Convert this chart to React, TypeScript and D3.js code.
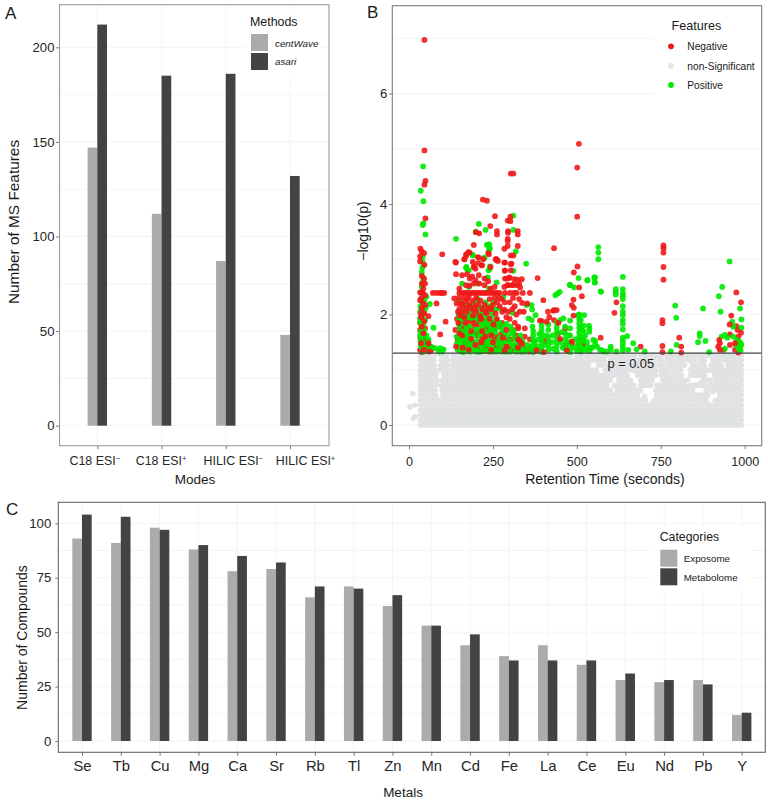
import React, { useEffect, useRef } from 'react';
import * as d3 from 'd3';

// panel A
const modes = ['C18 ESI-', 'C18 ESI+', 'HILIC ESI-', 'HILIC ESI+'];
const centWave = [147, 112, 87, 48];
const asari = [212, 185, 186, 132];
// the tick labels sit off their ticks in the original
const modeLabelShift = [-3, -1, 7, 15];

// panel C
const metals = ['Se', 'Tb', 'Cu', 'Mg', 'Ca', 'Sr', 'Rb', 'Tl', 'Zn', 'Mn', 'Cd', 'Fe', 'La', 'Ce', 'Eu', 'Nd', 'Pb', 'Y'];
const exposome = [93, 91, 98, 88, 78, 79, 66, 71, 62, 53, 44, 39, 44, 35, 28, 27, 28, 12];
const metabolome = [104, 103, 97, 90, 85, 82, 71, 70, 67, 53, 49, 37, 37, 37, 31, 28, 26, 13];

// panel B, [retention time, -log10(p)]
const negative: number[][] = [
  [46, 6.97], [46, 4.97], [49, 4.42], [46, 4.35], [49, 3.74], [34, 3.19], [506, 5.09], [501, 4.66], [501, 3.77],
  [303, 4.55], [311, 4.55], [220, 4.08], [232, 4.06], [256, 3.78], [302, 3.77], [294, 3.7], [302, 3.69], [242, 3.6],
  [199, 3.49], [209, 3.47], [262, 3.51], [262, 3.45], [295, 3.51], [295, 3.48], [324, 3.51], [324, 3.45], [294, 3.37],
  [294, 3.33], [193, 3.26], [294, 3.24], [324, 3.24], [284, 3.19], [432, 3.2], [758, 3.25], [758, 3.2], [99, 3.09],
  [177, 3.13], [165, 3.0], [170, 3.09], [138, 2.95], [205, 3.04], [190, 2.95], [194, 2.86], [216, 2.89], [206, 2.93],
  [236, 3.11], [258, 3.0], [261, 2.98], [284, 2.94], [303, 2.91], [303, 3.07], [311, 3.07], [285, 2.79], [383, 2.66],
  [336, 2.64], [291, 2.65], [297, 2.66], [284, 2.5], [296, 2.53], [311, 2.54], [321, 2.53], [331, 2.49],
  [71, 2.39], [82, 2.39], [92, 2.39], [98, 2.39], [105, 2.39], [150, 2.39], [158, 2.39], [165, 2.39], [172, 2.39],
  [180, 2.39], [188, 2.39], [195, 2.39], [203, 2.39], [210, 2.39], [218, 2.39], [225, 2.39], [232, 2.39], [240, 2.39],
  [248, 2.39], [255, 2.39], [262, 2.39], [270, 2.39], [286, 2.39], [301, 2.39], [313, 2.39], [321, 2.39], [339, 2.39],
  [360, 2.39], [400, 2.26], [337, 2.21], [82, 2.2], [109, 1.87], [93, 1.64], [491, 2.76], [502, 2.87], [507, 2.49],
  [515, 2.33], [490, 2.27], [485, 2.17], [491, 2.12], [490, 1.98],
  [758, 3.12], [758, 2.86], [758, 2.63], [755, 1.9], [755, 1.84], [755, 1.43], [755, 1.32], [805, 1.58], [811, 1.42],
  [811, 1.31], [618, 2.22], [612, 2.03], [571, 1.58], [690, 1.42], [975, 2.4], [989, 2.22], [960, 1.98], [955, 1.82],
  [975, 1.79], [979, 1.72], [989, 1.67], [956, 1.64], [981, 1.6], [924, 1.54], [926, 1.48], [921, 1.42], [926, 1.36],
  [936, 1.36], [956, 1.45], [971, 1.48], [971, 1.36], [981, 1.31], [485, 1.51], [514, 1.57], [519, 1.48],
  [38, 3.14], [45, 3.11], [33, 2.96], [46, 2.9], [38, 2.56], [48, 2.56], [43, 2.47], [41, 2.39], [48, 2.35], [33, 2.26],
  [48, 2.17], [38, 2.11], [45, 2.02], [58, 1.97], [33, 1.85], [38, 1.78], [33, 1.72], [48, 1.75], [43, 1.66], [38, 1.57],
  [48, 1.54], [58, 1.48], [63, 1.42], [33, 1.36], [43, 1.36], [38, 1.32], [50, 1.44], [36, 1.95], [42, 1.62],
  [33, 2.4], [37, 2.3], [42, 2.2], [35, 2.02], [45, 1.88], [40, 1.7], [34, 1.58], [36, 1.48], [48, 1.38], [52, 1.5],
  [60, 1.33], [66, 1.35], [33, 3.05], [38, 2.7], [45, 2.65],
  [140, 2.94], [140, 2.73], [158, 2.71], [165, 3.0], [171, 3.07], [181, 3.12], [193, 2.86], [198, 2.83], [208, 3.03],
  [221, 3.0], [218, 2.89], [238, 3.09], [243, 2.86], [261, 3.0], [265, 2.97], [286, 2.94], [305, 2.92], [286, 2.8],
  [303, 2.8], [299, 2.67], [286, 2.65], [313, 2.64], [323, 2.63], [293, 2.53], [308, 2.53], [328, 2.56], [173, 2.73],
  [181, 2.65], [188, 2.69], [198, 2.62], [208, 2.71], [225, 2.65], [225, 2.53], [243, 2.47], [193, 2.56], [170, 2.53],
  [150, 2.47], [210, 2.56], [180, 2.52], [236, 2.6], [255, 2.5],
  [135, 2.29], [148, 2.3], [155, 2.2], [163, 2.3], [175, 2.28], [150, 2.1], [158, 2.05], [170, 2.12], [180, 2.18],
  [190, 2.25], [200, 2.3], [213, 2.25], [225, 2.18], [240, 2.28], [255, 2.3], [143, 1.92], [155, 1.85], [165, 1.95],
  [178, 1.88], [190, 1.98], [200, 2.05], [212, 1.97], [220, 1.9], [232, 2.02], [245, 2.1], [258, 2.02], [270, 2.15],
  [284, 2.09], [300, 2.22], [308, 2.1], [320, 2.0], [330, 2.05], [290, 1.95], [277, 1.85], [300, 1.92], [315, 1.85],
  [325, 1.78], [138, 1.72], [150, 1.66], [162, 1.75], [172, 1.58], [185, 1.7], [195, 1.78], [208, 1.82], [218, 1.7],
  [228, 1.78], [240, 1.68], [252, 1.82], [262, 1.6], [275, 1.65], [290, 1.72], [305, 1.55], [318, 1.62], [330, 1.52],
  [340, 1.45], [345, 1.6], [140, 1.42], [152, 1.35], [165, 1.48], [178, 1.36], [190, 1.5], [205, 1.4], [218, 1.55],
  [232, 1.42], [240, 1.33], [250, 1.5], [262, 1.38], [272, 1.45], [285, 1.35], [298, 1.42], [312, 1.36], [325, 1.4],
  [338, 1.33], [358, 1.33], [380, 1.35], [395, 1.33], [220, 1.34], [228, 1.6], [204, 1.62], [180, 1.62],
  [142, 2.2], [146, 2.05], [152, 1.98], [147, 1.85], [160, 2.16], [168, 2.24], [172, 2.05], [178, 2.33], [185, 2.12],
  [192, 2.08], [198, 2.15], [206, 2.18], [218, 2.1], [228, 2.05], [236, 2.12], [250, 2.18], [262, 2.22], [268, 2.3],
  [276, 2.28], [152, 1.78], [158, 1.72], [168, 1.85], [175, 1.78], [185, 1.92], [192, 1.85], [200, 1.95], [205, 1.88],
  [215, 1.92], [225, 1.85], [235, 1.8], [240, 1.92], [248, 1.85], [255, 1.75], [262, 1.92], [270, 1.78], [145, 1.55],
  [158, 1.62], [165, 1.6], [175, 1.48], [185, 1.56], [198, 1.68], [210, 1.7], [215, 1.5], [222, 1.62], [235, 1.72],
  [245, 1.62], [255, 1.55], [268, 1.52], [280, 1.58], [295, 1.55], [310, 1.72], [160, 1.4], [172, 1.42], [185, 1.42],
  [198, 1.45], [210, 1.33], [225, 1.4], [245, 1.36], [258, 1.44], [275, 1.36], [290, 1.42], [305, 1.36], [320, 1.42],
  [335, 1.48], [350, 1.36], [295, 2.05], [315, 2.15], [285, 2.22], [278, 2.05], [342, 2.05], [352, 2.2], [310, 2.3],
  [328, 2.28], [345, 1.75], [360, 1.55],
  [432, 2.08], [414, 2.05], [430, 2.07], [440, 2.08], [418, 1.95], [432, 1.9], [445, 1.85], [395, 1.88], [390, 1.89],
  [410, 1.87], [465, 1.74], [444, 1.65], [450, 1.56], [485, 1.46], [375, 1.38], [402, 1.32], [405, 1.52], [465, 1.44],
  [470, 1.35], [518, 1.51], [519, 1.43], [325, 1.55], [325, 1.75],
];

const positive: number[][] = [
  [42, 4.68], [35, 4.24], [43, 4.05], [43, 3.65], [41, 3.62], [49, 3.45], [208, 3.64], [199, 3.5], [228, 3.53], [140, 3.37],
  [311, 3.79], [311, 3.53], [232, 3.26], [239, 3.27], [239, 3.19], [564, 3.22], [564, 3.12], [564, 3.0], [552, 2.67],
  [553, 2.58], [531, 2.62], [505, 2.66], [480, 2.53], [492, 2.49], [571, 2.42], [616, 2.46], [616, 2.41], [616, 2.36],
  [637, 2.68], [637, 2.46], [637, 2.38], [637, 2.33], [637, 2.28], [637, 2.15], [637, 2.05], [637, 1.99], [637, 1.9],
  [637, 1.83], [637, 1.73], [637, 1.58], [637, 1.53], [637, 1.47], [637, 1.41], [637, 1.35], [650, 1.61], [668, 1.48],
  [678, 1.37], [702, 1.33], [653, 1.36], [618, 1.33], [601, 1.42], [601, 1.36], [579, 1.33], [569, 1.36], [549, 1.54],
  [554, 1.45], [539, 1.39], [519, 1.52], [537, 1.75], [537, 1.69],
  [793, 2.16], [796, 1.94], [797, 1.45], [780, 1.33], [876, 2.11], [866, 1.66], [866, 1.61], [861, 1.5], [883, 1.52],
  [894, 1.32], [955, 2.96], [933, 2.5], [923, 2.33], [928, 2.05], [986, 2.11], [990, 1.91], [990, 1.76], [963, 1.87],
  [941, 1.63], [931, 1.6], [948, 1.58], [966, 1.6], [976, 1.54], [984, 1.51], [988, 1.48], [986, 1.41], [981, 1.38],
  [988, 1.35], [974, 1.45], [990, 1.45], [966, 1.78], [941, 1.38],
  [41, 3.05], [41, 2.95], [40, 2.85], [38, 2.77], [41, 2.68], [42, 2.6], [38, 2.5], [52, 2.32], [38, 2.25], [62, 2.19],
  [38, 1.96], [48, 1.9], [33, 1.87], [43, 1.83], [73, 1.76], [38, 1.6], [58, 1.55], [48, 1.46], [38, 1.4], [58, 1.5],
  [33, 1.93], [45, 2.05], [40, 2.13], [34, 1.52], [44, 1.33], [55, 1.35], [78, 1.39], [93, 1.39], [103, 1.37], [68, 1.41],
  [88, 1.33], [99, 1.33], [35, 1.7], [50, 2.12], [35, 1.45], [40, 1.5], [33, 1.62], [37, 1.8], [41, 2.0], [45, 1.72],
  [38, 2.4], [38, 2.05], [45, 1.6], [52, 1.62], [33, 2.05], [45, 2.25], [34, 2.15], [60, 1.38],
  [190, 3.08], [225, 3.03], [238, 3.15], [171, 2.86], [178, 2.8], [240, 2.83], [235, 2.67], [261, 2.58], [158, 2.56],
  [178, 2.5], [203, 2.56], [238, 2.47], [281, 2.31], [268, 2.11], [308, 2.03], [283, 1.78], [303, 1.72], [236, 3.27],
  [241, 3.2], [224, 3.02], [170, 2.85], [174, 2.8], [190, 3.07], [241, 2.87], [237, 2.8], [231, 2.66], [311, 2.79],
  [318, 3.14], [150, 2.25], [165, 2.18], [180, 2.08], [195, 2.2], [205, 2.28], [215, 2.12], [228, 2.22], [240, 2.15],
  [252, 2.22], [160, 2.0], [172, 1.98], [185, 2.02], [198, 1.92], [210, 2.02], [222, 1.98], [235, 1.93], [248, 1.98],
  [260, 1.9], [150, 1.8], [160, 1.85], [170, 1.8], [182, 1.78], [195, 1.88], [205, 1.72], [215, 1.85], [228, 1.88],
  [240, 1.78], [250, 1.72], [265, 1.78], [278, 1.72], [290, 1.83], [302, 1.78], [312, 1.7], [142, 1.6], [155, 1.55],
  [168, 1.66], [180, 1.52], [192, 1.62], [202, 1.52], [215, 1.62], [225, 1.5], [238, 1.58], [248, 1.62], [258, 1.5],
  [270, 1.58], [282, 1.52], [295, 1.62], [308, 1.66], [320, 1.5], [332, 1.62], [145, 1.36], [158, 1.45], [170, 1.4],
  [183, 1.43], [195, 1.36], [208, 1.46], [220, 1.42], [232, 1.35], [245, 1.43], [255, 1.36], [268, 1.36], [280, 1.43],
  [292, 1.33], [305, 1.46], [318, 1.33], [330, 1.42], [342, 1.36], [352, 1.45], [365, 1.42], [375, 1.5], [160, 1.32],
  [182, 1.33], [200, 1.33], [212, 1.33], [235, 1.46], [260, 1.33], [275, 1.33], [143, 1.48], [172, 1.5],
  [148, 2.0], [155, 1.95], [165, 2.08], [175, 2.15], [188, 2.15], [200, 2.1], [220, 2.05], [232, 2.1], [245, 2.05],
  [255, 2.1], [148, 1.9], [165, 1.9], [178, 1.95], [190, 1.92], [205, 1.95], [218, 1.78], [232, 1.82], [245, 1.88],
  [255, 1.82], [270, 1.85], [150, 1.7], [160, 1.7], [172, 1.72], [185, 1.65], [198, 1.72], [210, 1.62], [222, 1.72],
  [235, 1.68], [245, 1.72], [258, 1.68], [285, 1.65], [300, 1.52], [148, 1.52], [165, 1.55], [175, 1.6], [190, 1.48],
  [200, 1.42], [215, 1.48], [230, 1.52], [243, 1.5], [265, 1.46], [275, 1.5], [288, 1.45], [315, 1.58], [325, 1.55],
  [338, 1.52], [150, 1.42], [165, 1.33], [188, 1.38], [205, 1.33], [225, 1.34], [250, 1.33], [285, 1.33], [300, 1.33],
  [310, 1.42], [325, 1.33], [335, 1.33], [348, 1.33], [358, 1.38],
  [349, 2.92], [436, 2.35], [443, 2.38], [449, 2.41], [479, 2.54], [532, 2.62], [554, 2.67], [554, 2.58], [572, 2.41],
  [350, 2.17], [365, 2.17], [367, 2.09], [377, 1.99], [356, 1.93], [366, 1.9], [460, 1.93], [480, 1.89], [450, 1.9],
  [522, 1.99], [504, 1.99], [368, 1.78],
  [370, 1.7], [370, 1.62], [370, 1.54], [370, 1.46], [370, 1.38], [370, 1.32],
  [395, 1.8], [395, 1.72], [395, 1.64], [395, 1.56], [395, 1.48], [395, 1.4], [395, 1.33],
  [415, 1.82], [415, 1.72], [415, 1.6], [415, 1.52], [415, 1.44], [415, 1.36],
  [440, 1.85], [440, 1.76], [440, 1.68], [440, 1.58], [440, 1.5], [440, 1.42], [440, 1.33],
  [465, 1.78], [465, 1.66], [465, 1.56], [465, 1.46], [465, 1.38],
  [480, 1.75], [480, 1.62], [480, 1.5], [480, 1.4], [480, 1.32],
  [507, 2.0], [507, 1.92], [507, 1.84], [507, 1.76], [507, 1.68], [507, 1.6], [507, 1.52], [507, 1.44], [507, 1.36],
  [512, 1.9], [512, 1.78], [512, 1.6], [512, 1.42], [520, 1.8], [520, 1.7], [520, 1.56], [520, 1.38],
  [536, 1.8], [555, 1.52], [560, 1.42], [545, 1.4], [527, 1.36], [500, 1.34], [590, 1.33], [575, 1.35], [538, 1.34],
  [382, 1.42], [385, 1.55], [388, 1.65], [405, 1.45], [408, 1.62], [425, 1.5], [428, 1.62], [430, 1.38], [452, 1.5],
  [455, 1.68], [458, 1.4], [472, 1.5], [475, 1.62], [490, 1.4], [495, 1.55], [530, 1.5], [532, 1.42], [525, 1.62],
  [515, 1.72], [505, 1.38], [511, 1.33], [517, 1.36], [503, 1.46],
];

// the grey mass is far too dense to read dot by dot, so each row lists the rt spans it covers
const greyRows: number[] = [1.26, 1.17, 1.08, 0.99, 0.9, 0.81, 0.72, 0.63, 0.54, 0.45, 0.36, 0.27, 0.18, 0.09, 0.0];
const greySpans: number[][][] = [
  [[34, 75], [94, 113], [132, 345], [352, 362], [372, 392], [402, 425], [437, 452], [465, 480], [498, 512], [525, 548], [560, 590], [605, 640], [652, 672], [690, 708], [722, 735], [742, 770], [782, 800], [812, 852], [860, 878], [890, 920], [932, 990]],
  [[34, 74], [96, 115], [130, 370], [378, 400], [408, 430], [440, 498], [505, 540], [552, 582], [600, 655], [672, 700], [712, 730], [745, 752], [768, 785], [800, 815], [830, 850], [866, 880], [905, 925], [940, 965], [975, 990]],
  [[34, 76], [93, 118], [130, 440], [448, 505], [512, 535], [565, 575], [590, 650], [660, 690], [700, 735], [745, 790], [805, 820], [845, 880], [900, 930], [950, 990]],
  [[34, 78], [90, 100], [108, 118], [130, 510], [520, 558], [585, 612], [625, 650], [665, 700], [710, 735], [750, 770], [785, 810], [840, 895], [905, 990]],
  [[34, 80], [104, 118], [130, 565], [575, 610], [620, 650], [680, 712], [722, 735], [752, 780], [795, 812], [838, 880], [910, 960], [972, 990]],
  [[34, 84], [100, 120], [130, 600], [625, 660], [690, 725], [755, 790], [800, 830], [875, 900], [915, 965], [975, 990]],
  [[34, 82], [96, 122], [130, 590], [612, 670], [690, 720], [738, 760], [770, 820], [840, 880], [895, 990]],
  [[34, 78], [98, 120], [130, 600], [620, 680], [735, 800], [815, 845], [885, 990]],
  [[34, 80], [100, 120], [128, 680], [738, 890], [925, 990]],
  [[34, 92], [100, 118], [128, 705], [733, 885], [912, 990]],
  [[34, 118], [127, 740], [745, 840], [850, 990]],
  [[34, 119], [126, 990]],
  [[34, 119], [126, 565], [572, 990]],
  [[34, 120], [125, 990]],
  [[34, 120], [125, 990]],
];
const greyStray: number[][] = [
  [11, 0.57], [3, 0.33], [18, 0.36], [13, 0.12], [18, 0.15], [700, 0.95], [690, 0.62], [712, 0.78], [702, 0.52],
  [728, 0.42], [868, 0.75], [905, 0.6], [838, 1.0], [610, 1.05], [590, 0.78], [830, 0.7], [795, 1.12], [880, 1.05],
  [750, 1.2], [670, 1.08],
];

const LIGHT = '#ABABAB';
const DARK = '#434343';
const RED = '#F01818';
const GREEN = '#00E800';
const GREY = '#E0E2E4';
const GRID = '#F1F1F1';
const FONT = '"Liberation Sans", Arial, sans-serif';

function App() {
  const svgRef = useRef<SVGSVGElement | null>(null);

  useEffect(() => {
    const svg = d3.select(svgRef.current);
    svg.selectAll('*').remove();
    svg.attr('font-family', FONT);

    const text = (x: number, y: number, s: string, size: number, anchor = 'start', rotate = false) =>
      svg
        .append('text')
        .attr('transform', rotate ? `translate(${x},${y}) rotate(-90)` : `translate(${x},${y})`)
        .attr('text-anchor', anchor)
        .attr('font-size', size)
        .attr('fill', '#1a1a1a')
        .text(s);

    const hGrid = (g: any, scale: any, vals: number[], x0: number, x1: number) =>
      g
        .append('g')
        .selectAll('line')
        .data(vals)
        .join('line')
        .attr('x1', x0)
        .attr('x2', x1)
        .attr('y1', (d: number) => scale(d))
        .attr('y2', (d: number) => scale(d))
        .attr('stroke', GRID)
        .attr('stroke-width', 0.8);

    const vGrid = (g: any, xs: number[], y0: number, y1: number) =>
      g
        .append('g')
        .selectAll('line')
        .data(xs)
        .join('line')
        .attr('x1', (d: number) => d)
        .attr('x2', (d: number) => d)
        .attr('y1', y0)
        .attr('y2', y1)
        .attr('stroke', GRID)
        .attr('stroke-width', 0.8);

    const styleAxis = (g: any, size: number) => {
      g.select('.domain').remove();
      g.selectAll('.tick line').attr('stroke', '#555').attr('stroke-width', 0.8);
      g.selectAll('.tick text').attr('font-size', size).attr('font-family', FONT).attr('fill', '#262626');
    };

    const frame = (x0: number, y0: number, x1: number, y1: number, color: string) =>
      svg
        .append('rect')
        .attr('x', x0)
        .attr('y', y0)
        .attr('width', x1 - x0)
        .attr('height', y1 - y0)
        .attr('fill', 'none')
        .attr('stroke', color)
        .attr('stroke-width', 1.1);

    const swatches = (x: number, ys: number[], colors: string[]) =>
      svg
        .append('g')
        .selectAll('rect')
        .data(ys)
        .join('rect')
        .attr('x', x)
        .attr('y', (d) => d)
        .attr('width', 17)
        .attr('height', 17)
        .attr('fill', (_, i) => colors[i]);

    // ---- panel A
    const xA = d3.scalePoint<string>().domain(modes).range([97.3, 290]);
    const yA = d3.scaleLinear().domain([0, 200]).range([425.7, 47.3]);
    const barA = 9.7;
    const a = svg.append('g');
    hGrid(a, yA, [0, 25, 50, 75, 100, 125, 150, 175, 200, 225].filter((v) => yA(v) > 5), 59.5, 328.5);
    vGrid(a, modes.map((m) => xA(m) as number), 4.7, 445.7);
    a.append('g')
      .selectAll('rect')
      .data(centWave)
      .join('rect')
      .attr('x', (_, i) => (xA(modes[i]) as number) - barA)
      .attr('y', (d) => yA(d))
      .attr('width', barA)
      .attr('height', (d) => yA(0) - yA(d))
      .attr('fill', LIGHT);
    a.append('g')
      .selectAll('rect')
      .data(asari)
      .join('rect')
      .attr('x', (_, i) => xA(modes[i]) as number)
      .attr('y', (d) => yA(d))
      .attr('width', barA)
      .attr('height', (d) => yA(0) - yA(d))
      .attr('fill', DARK);
    const axA = a.append('g').attr('transform', 'translate(59.5,0)').call(d3.axisLeft(yA).tickValues([0, 50, 100, 150, 200]).tickSize(3.5).tickPadding(1.5));
    styleAxis(axA, 13.2);
    const axAx = a
      .append('g')
      .attr('transform', 'translate(0,445.7)')
      .call(d3.axisBottom(xA).tickSize(3.5).tickPadding(7.5));
    styleAxis(axAx, 12.4);
    axAx.selectAll('.tick text').each(function (d: any, i: number) {
      const t = d3.select(this);
      t.attr('dx', modeLabelShift[i]);
      t.text(d.slice(0, -1));
      t.append('tspan').attr('dy', -4).attr('font-size', 7.5).text(d.endsWith('-') ? '−' : '+');
    });
    frame(59.5, 4.7, 329, 445.7, '#9a9a9a');
    text(19, 222, 'Number of MS Features', 15.4, 'middle', true);
    text(195, 484, 'Modes', 13.5, 'middle');
    text(5, 18.5, 'A', 17);
    svg.append('rect').attr('x', 244).attr('y', 12).attr('width', 78).attr('height', 64).attr('fill', '#fff');
    text(250, 26, 'Methods', 12.4);
    swatches(251, [34, 53], [LIGHT, DARK]);
    text(275, 46.5, 'centWave', 9.8).attr('font-style', 'italic');
    text(275, 65, 'asari', 9.8).attr('font-style', 'italic');

    // ---- panel B
    const xB = d3.scaleLinear().domain([0, 1000]).range([409, 744.7]);
    const yB = d3.scaleLinear().domain([0, 6]).range([425, 93.5]);
    const b = svg.append('g');
    hGrid(b, yB, [0, 1, 2, 3, 4, 5, 6, 7], 392.3, 761.7);
    greyRows.forEach((lp, i) => {
      b.append('g')
        .selectAll('line')
        .data(greySpans[i])
        .join('line')
        .attr('x1', (d) => xB(d[0]))
        .attr('x2', (d) => xB(d[1]))
        .attr('y1', yB(lp))
        .attr('y2', yB(lp))
        .attr('stroke', GREY)
        .attr('stroke-width', 5.4)
        .attr('stroke-linecap', 'round');
    });
    b.append('g')
      .selectAll('circle')
      .data(greyStray)
      .join('circle')
      .attr('cx', (d) => xB(d[0]))
      .attr('cy', (d) => yB(d[1]))
      .attr('r', 2.7)
      .attr('fill', GREY);
    // low in the cloud green sits over most of the red, higher up red stays on top
    const redOnTop = (p: number[], i: number) => p[1] > 1.95 || i % 3 === 0;
    const dots = (pts: number[][], color: string) =>
      b
        .append('g')
        .selectAll('circle')
        .data(pts)
        .join('circle')
        .attr('cx', (d) => xB(d[0]))
        .attr('cy', (d) => yB(d[1]))
        .attr('r', 2.9)
        .attr('fill', color)
        .attr('fill-opacity', 0.9);
    dots(negative.filter((p, i) => !redOnTop(p, i)), RED);
    dots(positive, GREEN);
    dots(negative.filter(redOnTop), RED);
    b.append('line')
      .attr('x1', 392.3)
      .attr('x2', 761.7)
      .attr('y1', yB(1.301))
      .attr('y2', yB(1.301))
      .attr('stroke', '#444')
      .attr('stroke-width', 1.3);
    text(607.5, 368, 'p = 0.05', 12.8);
    const axB = b.append('g').attr('transform', 'translate(392.3,0)').call(d3.axisLeft(yB).tickValues([0, 2, 4, 6]).tickFormat(d3.format('d')).tickSize(3).tickPadding(2));
    styleAxis(axB, 13.2);
    const axBx = b
      .append('g')
      .attr('transform', 'translate(0,445.7)')
      .call(d3.axisBottom(xB).tickValues([0, 250, 500, 750, 1000]).tickFormat(d3.format('d')).tickSize(3.5).tickPadding(7.5));
    styleAxis(axBx, 12.6);
    frame(392.3, 5.7, 761.7, 445.7, '#7d7d7d');
    text(368, 231, '−log10(p)', 14, 'middle', true);
    text(605, 484, 'Retention Time (seconds)', 14, 'middle');
    text(367, 18, 'B', 17);
    svg.append('rect').attr('x', 655).attr('y', 14).attr('width', 105).attr('height', 84).attr('fill', '#fff');
    text(671.5, 30, 'Features', 12.6);
    svg
      .append('g')
      .selectAll('circle')
      .data([RED, '#E6E6E6', GREEN])
      .join('circle')
      .attr('cx', 671)
      .attr('cy', (_, i) => [46.3, 66, 85][i])
      .attr('r', 2.9)
      .attr('fill', (d) => d);
    text(687.3, 50, 'Negative', 10.2);
    text(687.3, 69.5, 'non-Significant', 10.2);
    text(687.3, 89, 'Positive', 10.2);

    // ---- panel C
    const xC = d3.scalePoint<string>().domain(metals).range([82, 741.7]);
    const yC = d3.scaleLinear().domain([0, 100]).range([741, 523.3]);
    const barC = 9.7;
    const c = svg.append('g');
    hGrid(c, yC, [0, 12.5, 25, 37.5, 50, 62.5, 75, 87.5, 100], 58.3, 765.3);
    vGrid(c, metals.map((m) => xC(m) as number), 502.3, 752.3);
    c.append('g')
      .selectAll('rect')
      .data(exposome)
      .join('rect')
      .attr('x', (_, i) => (xC(metals[i]) as number) - barC)
      .attr('y', (d) => yC(d))
      .attr('width', barC)
      .attr('height', (d) => yC(0) - yC(d))
      .attr('fill', LIGHT);
    c.append('g')
      .selectAll('rect')
      .data(metabolome)
      .join('rect')
      .attr('x', (_, i) => xC(metals[i]) as number)
      .attr('y', (d) => yC(d))
      .attr('width', barC)
      .attr('height', (d) => yC(0) - yC(d))
      .attr('fill', DARK);
    const axC = c.append('g').attr('transform', 'translate(58.3,0)').call(d3.axisLeft(yC).tickValues([0, 25, 50, 75, 100]).tickSize(3).tickPadding(4));
    styleAxis(axC, 13.2);
    const axCx = c
      .append('g')
      .attr('transform', 'translate(0,752.3)')
      .call(d3.axisBottom(xC).tickSize(3.5).tickPadding(5));
    styleAxis(axCx, 14.8);
    frame(58.3, 502.3, 765.3, 752.3, '#666');
    text(27, 637.5, 'Number of Compounds', 14, 'middle', true);
    text(403, 796.5, 'Metals', 13.5, 'middle');
    text(6, 515, 'C', 17);
    svg.append('rect').attr('x', 652).attr('y', 527).attr('width', 100).attr('height', 62).attr('fill', '#fff');
    text(659.7, 541, 'Categories', 12.3);
    swatches(660.3, [549.7, 568.3], [LIGHT, DARK]);
    text(683.7, 562, 'Exposome', 9.8);
    text(683.7, 581, 'Metabolome', 9.8);
  }, []);

  return <svg ref={svgRef} width={768} height={801} style={{ position: 'absolute', left: 0, top: 0, display: 'block' }} />;
}

export default App;
